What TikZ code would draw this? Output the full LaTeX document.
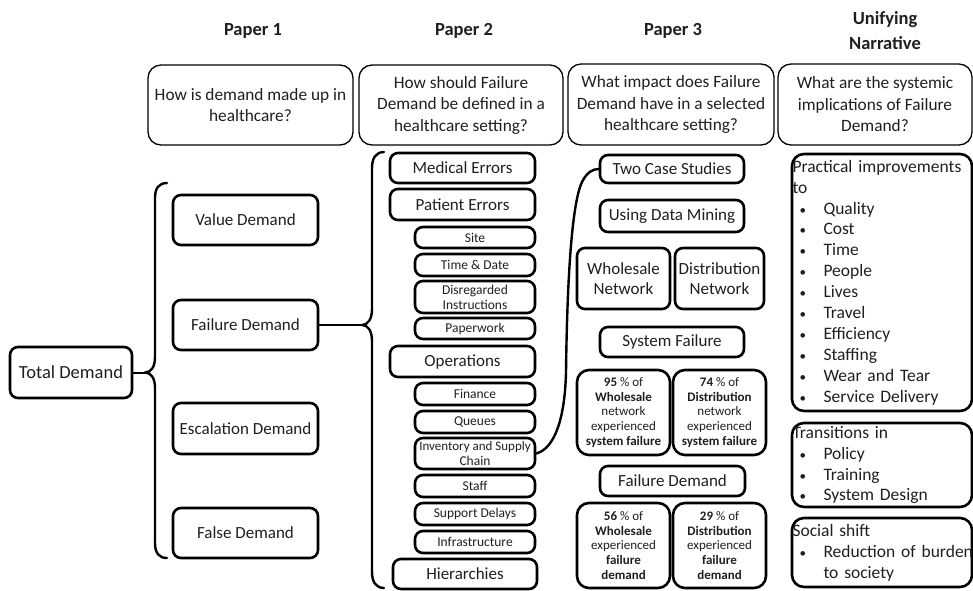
\documentclass[tikz,border=0pt]{standalone}
\usepackage{fontspec}
\setmainfont{Carlito}
% box from corner (x1,y1) to corner (x2,y2): style, name, x1, y1, x2, y2, text
\newcommand\placebox[7]{%
  \pgfmathsetmacro\pbw{#5-#3}%
  \pgfmathsetmacro\pbh{#6-#4}%
  \pgfmathsetmacro\pbcx{(#3+#5)/2}%
  \pgfmathsetmacro\pbcy{(#4+#6)/2}%
  \node[#1, minimum width=\pbw pt, minimum height=\pbh pt] (#2) at (\pbcx,\pbcy) {#7};}
% unbreakable lines for the bulleted lists
\newcommand\plainline[1]{\mbox{#1}}
\newcommand\bul[1]{\mbox{\makebox[31pt][l]{\hspace{7pt}{\fontsize{13}{13}\selectfont •}}#1}}
\newcommand\cont[1]{\mbox{\hspace*{31pt}#1}}
\begin{document}
\begin{tikzpicture}[x=1pt,y=-1pt,
  base/.style={draw, rounded corners=8pt, line width=2.6pt, align=center, inner sep=0pt, text=black!88},
  qbox/.style={base, rounded corners=13pt, line width=1.3pt, font=\fontsize{17.3}{21.5}\selectfont},
  mbox/.style={base, font=\fontsize{17}{20}\selectfont},
  sbox/.style={base, font=\fontsize{13.5}{15}\selectfont},
  pbox/.style={base, rounded corners=12pt, font=\fontsize{13}{14.6}\selectfont},
  rbox/.style={base, rounded corners=12pt, align=left, inner xsep=0.5pt, text width=179pt,
    font=\fontsize{17.5}{20.9}\selectfont},
  head/.style={font=\bfseries\fontsize{18.5}{25}\selectfont, align=center, text=black!88},
  brace/.style={line width=2.4pt, line join=round, line cap=round},
  link/.style={line width=2pt}]
\useasboundingbox (0,0) rectangle (973,590);

% column headings
\node[head] (h1) at (253,31) {Paper 1};
\node[head] (h2) at (464,31) {Paper 2};
\node[head] (h3) at (673,31) {Paper 3};
\node[head] (h4) at (885,31) {Unifying\\Narrative};

% research questions
\placebox{qbox}{q1}{148}{65}{353}{145}{How is demand made up in\\healthcare?}
\placebox{qbox}{q2}{359}{65}{563}{145}{How should Failure\\Demand be defined in a\\healthcare setting?}
\placebox{qbox}{q3}{568}{64}{774}{145}{What impact does Failure\\Demand have in a selected\\healthcare setting?}
\placebox{qbox}{q4}{778}{64}{972}{145}{What are the systemic\\implications of Failure\\Demand?}

% paper 1: kinds of demand
\placebox{mbox}{td}{10}{347}{132}{398}{\fontsize{18.5}{20}\selectfont Total Demand}
\placebox{mbox}{vd}{173}{195}{318}{245}{Value Demand}
\placebox{mbox}{fd}{173}{300}{318}{350}{Failure Demand}
\placebox{mbox}{ed}{173}{403}{318}{454}{Escalation Demand}
\placebox{mbox}{fa}{173}{508}{318}{558}{False Demand}

\coordinate (b1tip) at (145,372.5);
\draw[brace] (167,183) .. controls (159,183) and (155,188) .. (155,198) -- (155,357)
  .. controls (155,367) and (151,372.5) .. (b1tip)
  .. controls (151,372.5) and (155,378) .. (155,388) -- (155,543)
  .. controls (155,553) and (159,558) .. (167,558);
\draw[link] (td.east) -- (b1tip);

% paper 2: categories of failure demand
\placebox{mbox}{me}{390}{153}{535}{183}{Medical Errors}
\placebox{mbox}{pe}{390}{189}{535}{220}{Patient Errors}
\placebox{sbox}{si}{415}{227}{535}{248}{Site}
\placebox{sbox}{tdate}{415}{254}{535}{276}{Time \& Date}
\placebox{sbox}{di}{415}{281}{535}{313}{Disregarded\\Instructions}
\placebox{sbox}{pw}{415}{318}{535}{339}{Paperwork}
\placebox{mbox}{op}{390}{346}{535}{377}{Operations}
\placebox{sbox}{fi}{415}{383}{535}{405}{Finance}
\placebox{sbox}{qu}{415}{411}{535}{433}{Queues}
\placebox{sbox}{inv}{415}{438}{535}{469}{\fontsize{13}{14.5}\selectfont Inventory and Supply\\Chain}
\placebox{sbox}{st}{415}{475}{535}{497}{Staff}
\placebox{sbox}{sd}{415}{503}{535}{525}{Support Delays}
\placebox{sbox}{inf}{415}{531}{535}{553}{Infrastructure}
\placebox{mbox}{hi}{393}{559}{537}{589}{Hierarchies}

\coordinate (b2tip) at (362,325);
\draw[brace] (384,152) .. controls (376,152) and (372,158) .. (372,168) -- (372,309)
  .. controls (372,319) and (368,325) .. (b2tip)
  .. controls (368,325) and (372,331) .. (372,341) -- (372,572)
  .. controls (372,582) and (376,588) .. (384,588);
\draw[link] (fd.east) -- (b2tip);

% paper 3: case studies
\placebox{mbox}{tcs}{600}{155}{744}{183}{Two Case Studies}
\placebox{mbox}{udm}{600}{200}{744}{232}{Using Data Mining}
\placebox{mbox}{wn}{577}{248}{670}{309}{Wholesale\\Network}
\placebox{mbox}{dn}{675}{248}{764}{309}{Distribution\\Network}
\placebox{mbox}{sf}{600}{327}{744}{357}{System Failure}
\placebox{pbox}{p95}{577}{370}{670}{455}{\textbf{95} \% of\\\textbf{Wholesale}\\network\\experienced\\\textbf{system failure}}
\placebox{pbox}{p74}{673}{370}{766}{455}{\textbf{74} \% of\\\textbf{Distribution}\\network\\experienced\\\textbf{system failure}}
\placebox{mbox}{fdem}{600}{466}{745}{496}{Failure Demand}
\placebox{pbox}{p56}{577}{503}{670}{588}{\textbf{56} \% of\\\textbf{Wholesale}\\experienced\\\textbf{failure}\\\textbf{demand}}
\placebox{pbox}{p29}{673}{503}{766}{588}{\textbf{29} \% of\\\textbf{Distribution}\\experienced\\\textbf{failure}\\\textbf{demand}}

\draw[brace] (inv.east) .. controls (556,448) and (565,415) .. (566,372)
  .. controls (567,290) and (571,205) .. (582,182)
  .. controls (587,172) and (593,169) .. (tcs.west);

% unifying narrative
\placebox{rbox}{pi}{792}{154}{972}{411}{\plainline{Practical improvements}\\\plainline{to}\\\bul{Quality}\\\bul{Cost}\\\bul{Time}\\\bul{People}\\\bul{Lives}\\\bul{Travel}\\\bul{Efficiency}\\\bul{Staffing}\\\bul{Wear and Tear}\\\bul{Service Delivery}}
\placebox{rbox}{ti}{792}{423}{972}{507}{\plainline{Transitions in}\\\bul{Policy}\\\bul{Training}\\\bul{System Design}}
\placebox{rbox}{ss}{792}{518}{972}{587}{\plainline{Social shift}\\\bul{Reduction of burden}\\\cont{to society}}
\end{tikzpicture}
\end{document}
